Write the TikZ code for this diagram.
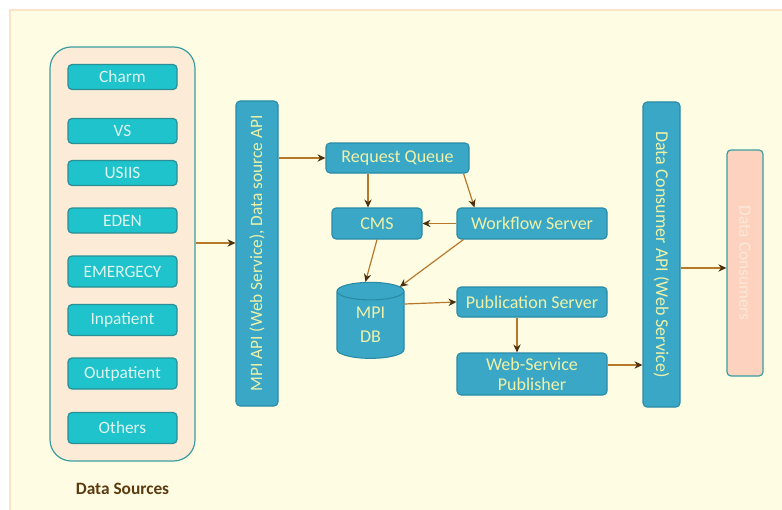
\documentclass[tikz,border=0pt]{standalone}
\usepackage{fontspec}
\setmainfont{Carlito}
\usetikzlibrary{arrows.meta,shapes.geometric,calc}
\definecolor{bgy}{HTML}{FEFDE3}
\definecolor{bgline}{HTML}{FBE3C8}
\definecolor{contfill}{HTML}{FCEBD6}
\definecolor{contline}{HTML}{3A9EA0}
\definecolor{srcfill}{HTML}{1FC3CB}
\definecolor{srcline}{HTML}{2A8F96}
\definecolor{srctext}{HTML}{DDF5EE}
\definecolor{apifill}{HTML}{3BA7C6}
\definecolor{apiline}{HTML}{2A8AA6}
\definecolor{apitext}{HTML}{EEF2A8}
\definecolor{arrowc}{HTML}{B8782A}
\definecolor{arrowh}{HTML}{4A3010}
\definecolor{dcfill}{HTML}{FDD3BF}
\definecolor{dctext}{HTML}{FBE8DA}
\definecolor{dstext}{HTML}{5A3A10}
\tikzset{
  srcbox/.style={draw=srcline, line width=0.9pt, fill=srcfill, rounded corners=3pt,
    text=srctext, font=\fontsize{13}{15}\selectfont, minimum width=81.75pt, inner sep=0pt},
  apibox/.style={draw=apiline, line width=0.8pt, fill=apifill, rounded corners=3pt,
    text=apitext, font=\fontsize{13.5}{16}\selectfont, inner sep=0pt, align=center},
  conn/.style={draw=arrowc, line width=0.9pt, -{Stealth[length=6pt,width=5.5pt,color=arrowh]}}
}
\begin{document}
\begin{tikzpicture}[x=0.75pt,y=-0.75pt]
\useasboundingbox (0,0) rectangle (782,510);
\fill[white] (0,0) rectangle (782,510);
\filldraw[fill=bgy, draw=bgline, line width=0.8pt] (10,10) rectangle (790,520);

% Data sources container
\node[draw=contline, line width=0.9pt, fill=contfill, rounded corners=16pt,
      minimum width=108.75pt, minimum height=310.5pt] (cont) at (122.5,254) {};
\node[srcbox, minimum height=18.75pt] (charm) at (122.5,77) {Charm};
\node[srcbox, minimum height=18.75pt] (vs) at (122.5,131) {VS};
\node[srcbox, minimum height=18.75pt] (usiis) at (122.5,173) {USIIS};
\node[srcbox, minimum height=18.75pt] (eden) at (122.5,220.5) {EDEN};
\node[srcbox, minimum height=23.25pt] (emer) at (122.5,271.5) {EMERGECY};
\node[srcbox, minimum height=23.25pt] (inp) at (122.5,320) {Inpatient};
\node[srcbox, minimum height=23.25pt] (outp) at (122.5,373.5) {Outpatient};
\node[srcbox, minimum height=23.25pt] (oth) at (122.5,428) {Others};
\node[text=dstext, font=\fontsize{13}{15}\selectfont\bfseries] (dslabel) at (122.5,489) {Data Sources};

% MPI API
\node[apibox, rotate=90, minimum width=228.75pt, minimum height=31.5pt,
      font=\fontsize{13}{15}\selectfont] (api) at (257,253.5)
  {MPI API (Web Service), Data source API};

% Central
\node[apibox, minimum width=107.25pt, minimum height=22.5pt] (rq) at (397.5,158) {Request Queue};
\node[apibox, minimum width=67.5pt, minimum height=23.25pt] (cms) at (377,223.5) {CMS};
\node[apibox, minimum width=112.5pt, minimum height=23.25pt] (wf) at (532,223.5) {Workflow Server};
\node[apibox, minimum width=112.5pt, minimum height=22.5pt] (pub) at (532,302) {Publication Server};
\node[apibox, minimum width=112.5pt, minimum height=31.5pt, font=\fontsize{13.5}{15}\selectfont] (wsp) at (532,374) {Web-Service\\Publisher};
\node[apibox, cylinder, shape border rotate=90, aspect=0.6, rounded corners=0pt,
      minimum width=50.25pt, minimum height=57pt, font=\fontsize{13.5}{18}\selectfont] (db) at (370.5,325) {MPI\\DB};

% Consumer API
\node[apibox, rotate=-90, minimum width=228.75pt, minimum height=27.75pt] (capi) at (661.5,254.5)
  {Data Consumer API (Web Service)};
\node[draw=contline, line width=0.9pt, fill=dcfill, rounded corners=3pt, rotate=-90,
      text=dctext, font=\fontsize{13}{15}\selectfont, inner sep=0pt,
      minimum width=169.5pt, minimum height=27pt] (dc) at (745,263) {Data Consumers};

% Connectors
\draw[conn] ([yshift=8.25pt]cont.east) -- ([yshift=8.25pt]cont.east -| api.north);
\draw[conn] (rq.west -| api.south) -- (rq.west);
\draw[conn] ([xshift=-6.75pt]cms.north |- rq.south) -- ([xshift=-6.75pt]cms.north);
\draw[conn] ([xshift=-4.5pt]rq.south east) -- ([xshift=13.5pt]wf.north west);
\draw[conn] (wf.west) -- (cms.east);
\draw[conn] (cms.south) -- ([xshift=-3.75pt]db.top);
\draw[conn] ([xshift=5.25pt]wf.south west) -- ([xshift=22pt,yshift=-3.75pt]db.top);
\draw[conn] ([yshift=15.75pt]db.east) -- (pub.west);
\draw[conn] ([xshift=-11.25pt]pub.south) -- ([xshift=-11.25pt]wsp.north);
\draw[conn] ([yshift=6.75pt]wsp.east) -- ([yshift=6.75pt]wsp.east -| capi.south);
\draw[conn] ([yshift=-10.1pt]capi.north) -- ([yshift=-10.1pt]capi.north -| dc.south);
\end{tikzpicture}
\end{document}
